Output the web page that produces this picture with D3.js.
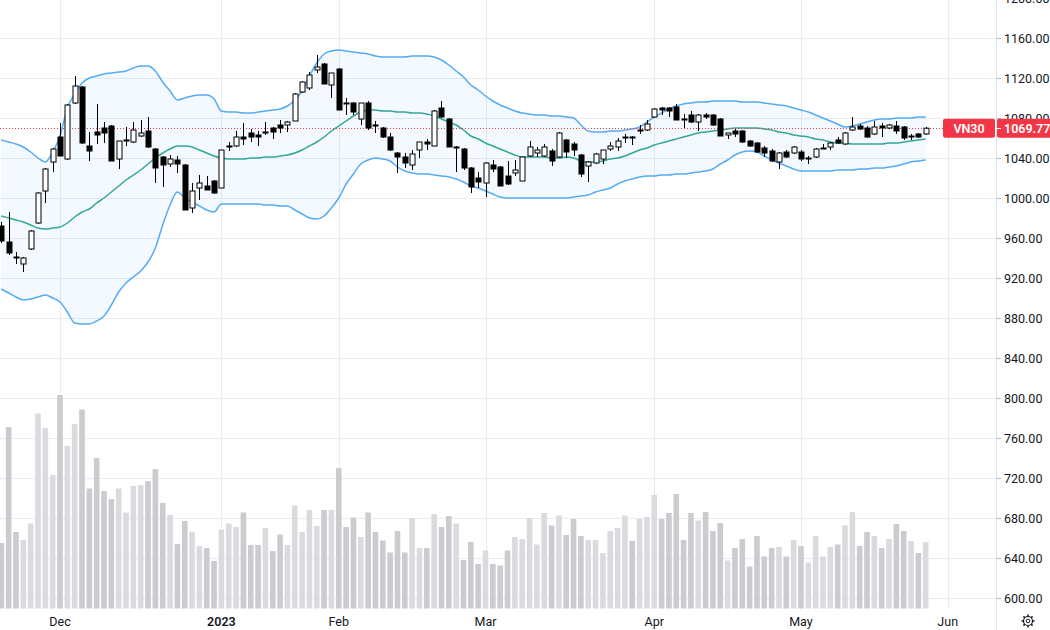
<!DOCTYPE html>
<html>
<head>
<meta charset="utf-8">
<script src="https://cdn.jsdelivr.net/npm/d3@7"></script>
<style>
  body { margin: 0; background: #fff; }
  text { font-family: Roboto, "Noto Sans", sans-serif; }
</style>
</head>
<body>
<div id="chart"></div>
<script>
// chart size
const WIDTH = 1050;
const HEIGHT = 630;
const PLOT_RIGHT = 996;
const PLOT_BOTTOM = 609;

// trading days, Nov 21 2022 .. May 29 2023
const dates = [
  "2022-11-21","2022-11-22","2022-11-23","2022-11-24","2022-11-25","2022-11-28","2022-11-29","2022-11-30",
  "2022-12-01","2022-12-02","2022-12-05","2022-12-06","2022-12-07","2022-12-08","2022-12-09","2022-12-12",
  "2022-12-13","2022-12-14","2022-12-15","2022-12-16","2022-12-19","2022-12-20","2022-12-21","2022-12-22",
  "2022-12-23","2022-12-26","2022-12-27","2022-12-28","2022-12-29","2022-12-30",
  "2023-01-03","2023-01-04","2023-01-05","2023-01-06","2023-01-09","2023-01-10","2023-01-11","2023-01-12",
  "2023-01-13","2023-01-16","2023-01-17","2023-01-18","2023-01-19","2023-01-27","2023-01-30","2023-01-31",
  "2023-02-01","2023-02-02","2023-02-03","2023-02-06","2023-02-07","2023-02-08","2023-02-09","2023-02-10",
  "2023-02-13","2023-02-14","2023-02-15","2023-02-16","2023-02-17","2023-02-20","2023-02-21","2023-02-22",
  "2023-02-23","2023-02-24","2023-02-27","2023-02-28",
  "2023-03-01","2023-03-02","2023-03-03","2023-03-06","2023-03-07","2023-03-08","2023-03-09","2023-03-10",
  "2023-03-13","2023-03-14","2023-03-15","2023-03-16","2023-03-17","2023-03-20","2023-03-21","2023-03-22",
  "2023-03-23","2023-03-24","2023-03-27","2023-03-28","2023-03-29","2023-03-30","2023-03-31",
  "2023-04-03","2023-04-04","2023-04-05","2023-04-06","2023-04-07","2023-04-10","2023-04-11","2023-04-12",
  "2023-04-13","2023-04-14","2023-04-17","2023-04-18","2023-04-19","2023-04-20","2023-04-21","2023-04-24",
  "2023-04-25","2023-04-26","2023-04-27","2023-04-28",
  "2023-05-04","2023-05-05","2023-05-08","2023-05-09","2023-05-10","2023-05-11","2023-05-12","2023-05-15",
  "2023-05-16","2023-05-17","2023-05-18","2023-05-19","2023-05-22","2023-05-23","2023-05-24","2023-05-25",
  "2023-05-26","2023-05-29"
];

const open = [
  972,956,941,934,949,975,1007,1036,
  1061,1039,1095,1111,1052,1066,1070,1072,1039,1057,1056,1062,1067,1049,1041,1034,1038,1033,990,1010,1012,1017,
  1010,1051,1052,1061,1065,1063,1065,1070,1073,1073,1077,1106,1110,1128,1134,1113,
  1129,1095,1095,1079,1095,1073,1070,1061,1045,1041,1033,1048,1056,1052,1090,1079,1051,1049,1030,1020,
  1015,1033,1031,1022,1025,1017,1042,1045,1042,1047,1041,1058,1054,1043,1032,1035,1039,1049,1051,1060,1061,1068,1068,
  1081,1090,1090,1091,1079,1083,1076,1083,1083,1079,1063,1067,1067,1057,1055,1050,1047,1036,1046,1045,
  1046,1039,1041,1050,1051,1058,1054,1068,1072,1070,1064,1072,1070,1072,1071,1061,1064,1064
];
const high = [
  976,986,946,941,968,1006,1030,1050,
  1075,1094,1122,1112,1066,1094,1076,1073,1057,1071,1076,1078,1081,1050,1042,1043,1042,1034,1015,1023,1022,1018,
  1048,1056,1067,1075,1069,1067,1076,1071,1078,1077,1105,1117,1126,1143,1135,1125,
  1130,1100,1096,1095,1097,1077,1071,1065,1046,1045,1048,1056,1059,1088,1097,1080,1052,1050,1031,1026,
  1036,1038,1032,1037,1038,1041,1057,1051,1054,1049,1066,1059,1056,1044,1037,1045,1048,1056,1060,1064,1062,1073,1078,
  1090,1091,1091,1094,1084,1087,1084,1085,1084,1080,1065,1069,1068,1058,1056,1052,1049,1046,1048,1052,
  1048,1042,1050,1054,1056,1061,1066,1081,1074,1072,1077,1075,1074,1077,1072,1064,1065,1071
];
const low = [
  955,943,934,926,948,974,995,1026,
  1042,1038,1094,1054,1037,1054,1055,1037,1029,1052,1055,1061,1050,1015,1011,1031,1025,988,985,998,1008,1004,
  1010,1047,1051,1053,1056,1052,1063,1059,1065,1066,1077,1105,1108,1125,1114,1100,
  1088,1083,1083,1073,1068,1065,1060,1047,1025,1030,1028,1040,1048,1052,1080,1051,1026,1028,1005,1010,
  1001,1026,1012,1013,1022,1017,1041,1041,1041,1032,1040,1040,1042,1021,1016,1034,1034,1047,1047,1055,1053,1064,1067,
  1080,1083,1081,1078,1070,1075,1067,1079,1072,1062,1059,1061,1055,1051,1045,1041,1036,1029,1040,1044,
  1037,1034,1040,1049,1048,1054,1053,1067,1068,1060,1063,1061,1069,1064,1058,1058,1060,1063
];
const close = [
  957,945,940,940,967,1005,1029,1049,
  1042,1093,1112,1055,1047,1063,1065,1037,1057,1058,1068,1065,1051,1030,1033,1039,1034,988,1007,1015,1008,1005,
  1048,1052,1061,1059,1061,1061,1066,1066,1070,1076,1104,1116,1123,1131,1114,1125,
  1088,1094,1086,1095,1070,1072,1061,1048,1041,1035,1044,1056,1054,1087,1081,1051,1051,1030,1011,1016,
  1035,1029,1012,1014,1028,1041,1051,1048,1051,1037,1065,1046,1048,1024,1036,1044,1048,1052,1057,1061,1060,1068,1074,
  1089,1088,1087,1078,1078,1076,1083,1081,1073,1062,1065,1064,1056,1052,1046,1045,1037,1045,1041,1051,
  1039,1040,1049,1050,1055,1055,1065,1071,1069,1061,1071,1070,1073,1067,1060,1062,1061,1069.77
];
const volume = [
  131,363,153,137,170,390,361,267,
  427,325,369,398,240,301,235,219,240,192,245,247,255,279,211,187,129,175,153,125,121,95,
  158,170,163,192,127,127,161,115,148,127,206,153,197,165,197,197,
  281,163,182,143,192,153,136,112,155,112,181,121,121,189,163,185,170,97,133,89,
  116,89,86,116,143,139,181,128,191,166,186,147,179,145,137,137,111,155,161,186,135,179,183,
  227,179,191,229,137,191,176,193,155,171,96,121,139,84,145,104,121,123,104,137,
  125,92,145,104,123,128,166,193,125,153,145,121,139,169,155,135,111,133
];

// bollinger band lines
const bandUpper = [
  1058,1056,1054,1051,1046,1040,1036,1046,
  1062,1090,1104,1115,1120,1122,1124,1125,1126,1127,1130,1132,1132,1127,1116,1107,1098,1100,1102,1103,1103,1099,
  1087,1086,1086,1085,1085,1086,1087,1088,1089,1092,1098,1107,1122,1135,1144,1147,
  1148,1147,1146,1145,1144,1142,1141,1141,1141,1141,1142,1142,1142,1141,1138,1133,1127,1121,1113,1108,
  1102,1097,1093,1090,1087,1085,1084,1083,1083,1082,1082,1081,1080,1073,1067,1066,1066,1067,1067,1068,1069,1071,1076,
  1081,1085,1089,1092,1094,1095,1096,1096,1097,1097,1097,1097,1096,1096,1096,1095,1094,1093,1092,1090,
  1088,1086,1083,1080,1077,1074,1071,1072,1074,1076,1078,1079,1079,1080,1080,1080,1081,1081
];
const bandMiddle = [
  982,980,978,976,973,970,969,970,
  971,975,981,986,989,995,1000,1006,1012,1018,1023,1028,1034,1040,1045,1049,1052,1052,1051,1048,1045,1042,
  1040,1039,1039,1039,1040,1040,1041,1041,1042,1043,1045,1048,1052,1056,1061,1067,
  1072,1077,1082,1086,1088,1088,1087,1087,1086,1086,1085,1085,1084,1082,1079,1076,1073,1068,1062,1059,
  1055,1052,1049,1046,1043,1041,1041,1041,1041,1040,1040,1041,1040,1037,1036,1036,1037,1039,1040,1042,1045,1048,1050,
  1053,1055,1057,1059,1061,1063,1065,1066,1067,1068,1069,1070,1070,1070,1070,1069,1068,1066,1065,1063,
  1062,1061,1059,1058,1056,1055,1055,1054,1054,1054,1054,1054,1055,1055,1056,1057,1058,1059
];
const bandLower = [
  909,905,901,898,899,901,903,900,
  896,886,875,874,874,877,882,893,906,915,921,927,936,950,973,993,1006,1000,996,992,988,986,
  994,994,994,994,994,994,993,993,992,992,988,984,980,979,982,990,
  1000,1014,1024,1034,1038,1040,1039,1037,1031,1027,1025,1024,1024,1023,1022,1021,1019,1016,1012,1010,
  1007,1004,1001,1000,1000,1000,1000,1000,1000,1000,1000,1000,1001,1002,1003,1006,1008,1010,1014,1017,1019,1021,1022,
  1022,1023,1023,1024,1024,1025,1026,1027,1029,1034,1038,1043,1046,1047,1046,1042,1038,1035,1032,1029,
  1027,1027,1027,1027,1027,1028,1028,1028,1029,1029,1030,1030,1031,1032,1034,1036,1037,1038
];

// time axis labels and the bar slot they sit on (Jun is one slot past data)
const monthLabels = ["Dec", "2023", "Feb", "Mar", "Apr", "May", "Jun"];
const monthSlots = [8, 30, 46, 66, 89, 109, 129];

const priceTicks = d3.range(600, 1201, 40);
const lastPrice = close[close.length - 1];

const bars = dates.map((d, i) => ({
  i: i, date: d, o: open[i], h: high[i], l: low[i], c: close[i], v: volume[i],
  up: bandUpper[i], mid: bandMiddle[i], lo: bandLower[i]
}));

const svg = d3.select("#chart")
  .append("svg")
  .attr("width", WIDTH)
  .attr("height", HEIGHT);

// scales
const xScale = d3.scaleLinear()
  .domain([8, 129])
  .range([60, 947.7]);

const yScale = d3.scaleLinear()
  .domain([600, 1200])
  .range([598, -2]);

const vScale = d3.scaleLinear()
  .domain([0, d3.max(volume)])
  .range([608.5, 395]);

// grid
svg.append("g")
  .selectAll("line")
  .data(priceTicks)
  .enter()
  .append("line")
    .attr("x1", 0)
    .attr("x2", PLOT_RIGHT)
    .attr("y1", d => Math.round(yScale(d)) + 0.5)
    .attr("y2", d => Math.round(yScale(d)) + 0.5)
    .attr("stroke", "#e9ebf0");

svg.append("g")
  .selectAll("line")
  .data(monthSlots)
  .enter()
  .append("line")
    .attr("x1", d => Math.round(xScale(d)) + 0.5)
    .attr("x2", d => Math.round(xScale(d)) + 0.5)
    .attr("y1", 0)
    .attr("y2", PLOT_BOTTOM)
    .attr("stroke", "#e9ebf0");

// volume
svg.append("g")
  .selectAll("rect")
  .data(bars)
  .enter()
  .append("rect")
    .attr("x", d => xScale(d.i) - 2.8)
    .attr("width", 5.6)
    .attr("y", d => vScale(d.v))
    .attr("height", d => vScale(0) - vScale(d.v))
    .attr("fill", d => d.c >= d.o ? "#dadadf" : "#cbcbd0");

// bollinger band
const area = d3.area()
  .x(d => xScale(d.i))
  .y0(d => yScale(d.lo))
  .y1(d => yScale(d.up))
  .curve(d3.curveMonotoneX);

svg.append("path")
  .datum(bars)
  .attr("d", area)
  .attr("fill", "rgba(33,150,243,0.055)");

const lineOf = key => d3.line()
  .x(d => xScale(d.i))
  .y(d => yScale(d[key]))
  .curve(d3.curveMonotoneX);

["up", "lo"].forEach(k => {
  svg.append("path")
    .datum(bars)
    .attr("d", lineOf(k))
    .attr("fill", "none")
    .attr("stroke", "#55abf4")
    .attr("stroke-width", 1.5);
});

svg.append("path")
  .datum(bars)
  .attr("d", lineOf("mid"))
  .attr("fill", "none")
  .attr("stroke", "#34a898")
  .attr("stroke-width", 1.5);

// last price line
svg.append("line")
  .attr("x1", 0)
  .attr("x2", 943)
  .attr("y1", Math.round(yScale(lastPrice)) + 0.5)
  .attr("y2", Math.round(yScale(lastPrice)) + 0.5)
  .attr("stroke", "#f23645")
  .attr("stroke-dasharray", "1,2");

// candles
const candle = svg.append("g")
  .selectAll("g")
  .data(bars)
  .enter()
  .append("g");

candle.append("line")
  .attr("x1", d => Math.round(xScale(d.i)) + 0.5)
  .attr("x2", d => Math.round(xScale(d.i)) + 0.5)
  .attr("y1", d => yScale(d.h))
  .attr("y2", d => yScale(d.l))
  .attr("stroke", "#000");

candle.append("rect")
  .attr("x", d => Math.round(xScale(d.i)) - 2)
  .attr("width", 5)
  .attr("y", d => yScale(Math.max(d.o, d.c)))
  .attr("height", d => Math.max(1, Math.abs(yScale(d.o) - yScale(d.c))))
  .attr("fill", d => d.c >= d.o ? "#fff" : "#000")
  .attr("stroke", "#000")
  .attr("stroke-width", 1);

// right price scale
svg.append("rect")
  .attr("x", PLOT_RIGHT)
  .attr("y", 0)
  .attr("width", WIDTH - PLOT_RIGHT)
  .attr("height", HEIGHT)
  .attr("fill", "#fff");

svg.append("line")
  .attr("x1", PLOT_RIGHT + 0.5)
  .attr("x2", PLOT_RIGHT + 0.5)
  .attr("y1", 0)
  .attr("y2", HEIGHT)
  .attr("stroke", "#e0e3eb");

const yAxis = d3.axisRight(yScale)
  .tickValues(priceTicks)
  .tickFormat(d3.format(".2f"))
  .tickSize(4)
  .tickPadding(3);

const yAxisG = svg.append("g")
  .attr("transform", "translate(" + (PLOT_RIGHT + 1) + ",0)")
  .call(yAxis);

yAxisG.select(".domain").remove();
yAxisG.selectAll(".tick line").attr("stroke", "#b2b5be");
yAxisG.selectAll(".tick text")
  .attr("fill", "#131722")
  .style("font-size", "12.5px");

// time axis labels
svg.append("g")
  .selectAll("text")
  .data(monthSlots)
  .enter()
  .append("text")
    .attr("x", d => xScale(d))
    .attr("y", 626)
    .attr("text-anchor", "middle")
    .attr("fill", "#131722")
    .style("font-size", "12.5px")
    .style("font-weight", (d, i) => monthLabels[i] == "2023" ? 600 : 400)
    .text((d, i) => monthLabels[i]);

// last price labels
const yLast = yScale(lastPrice);

svg.append("rect")
  .attr("x", 943)
  .attr("y", yLast - 9.5)
  .attr("width", 52)
  .attr("height", 19)
  .attr("rx", 2)
  .attr("fill", "#f23645");

svg.append("text")
  .attr("x", 969)
  .attr("y", yLast + 4.5)
  .attr("text-anchor", "middle")
  .attr("fill", "#fff")
  .style("font-size", "12.5px")
  .style("font-weight", 600)
  .text("VN30");

svg.append("rect")
  .attr("x", 997)
  .attr("y", yLast - 9.5)
  .attr("width", 60)
  .attr("height", 19)
  .attr("rx", 2)
  .attr("fill", "#f23645");

svg.append("line")
  .attr("x1", 997)
  .attr("x2", 1001)
  .attr("y1", Math.round(yLast) + 0.5)
  .attr("y2", Math.round(yLast) + 0.5)
  .attr("stroke", "#fff");

svg.append("text")
  .attr("x", 1004)
  .attr("y", yLast + 4.5)
  .attr("fill", "#fff")
  .style("font-size", "12.5px")
  .style("font-weight", 600)
  .text(d3.format(".2f")(lastPrice));

// settings gear
const gear = svg.append("g")
  .attr("transform", "translate(1028,621)")
  .attr("stroke", "#131722")
  .attr("fill", "none");

gear.append("circle").attr("r", 4.5).attr("stroke-width", 1.2);
gear.append("circle").attr("r", 1.8).attr("stroke-width", 1);
d3.range(8).forEach(k => {
  const a = k * Math.PI / 4;
  gear.append("line")
    .attr("x1", Math.cos(a) * 4.5)
    .attr("y1", Math.sin(a) * 4.5)
    .attr("x2", Math.cos(a) * 6.5)
    .attr("y2", Math.sin(a) * 6.5)
    .attr("stroke-width", 1.5);
});
</script>
</body>
</html>
